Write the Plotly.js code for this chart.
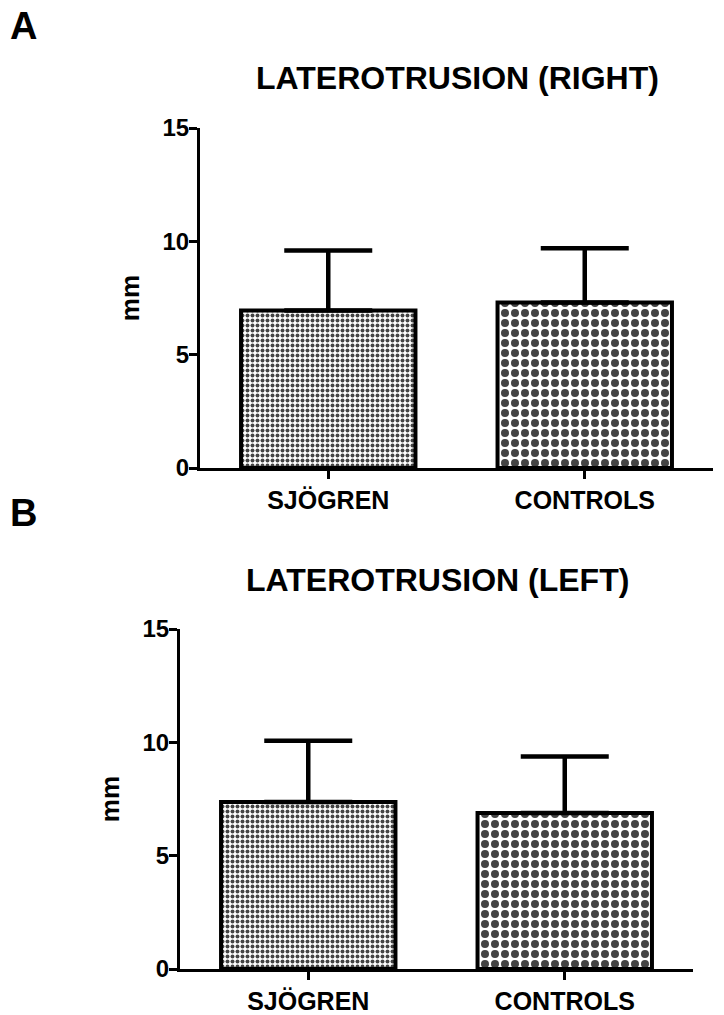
<!DOCTYPE html>
<html>
<head>
<meta charset="utf-8">
<script src="https://cdn.plot.ly/plotly-3.0.1.min.js"></script>
<style>html,body{margin:0;padding:0;background:#fff}#chart{width:724px;height:1015px}</style>
</head>
<body>
<div id="chart"></div>
<script>
// Data (mean and upper SD, mm)
const categories = ["SJÖGREN", "CONTROLS"];
const rightMeans = [6.95, 7.3];
const rightSD = [2.65, 2.4];
const leftMeans = [7.37, 6.88];
const leftSD = [2.7, 2.5];
const yTicks = [0, 5, 10, 15];
const panelTitles = ["LATEROTRUSION (RIGHT)", "LATEROTRUSION (LEFT)"];
const panelLetters = ["A", "B"];

const FONT = "Liberation Sans, Arial, sans-serif";
const W = 724, H = 1015;
const px = v => v / W;
const py = v => 1 - v / H;

function barTrace(means, sd, xa, ya) {
  return {
    type: "bar",
    x: categories,
    y: means,
    xaxis: xa, yaxis: ya,
    width: 0.68,
    marker: {
      color: ["#ffffff", "#ffffff"],
      line: {color: "#000", width: 4},
      pattern: {
        shape: [".", "."],
        size: [5, 10],
        solidity: [0.5, 0.5],
        fgcolor: "#000",
        fgopacity: 1,
        fillmode: "overlay"
      }
    },
    error_y: {
      type: "data", symmetric: false, array: sd, arrayminus: [0, 0],
      color: "#000", thickness: 4.5, width: 44
    },
    showlegend: false,
    hoverinfo: "skip"
  };
}

const xCommon = {
  type: "category", range: [-0.5, 1.5], showline: true, linecolor: "#000", linewidth: 3,
  ticks: "outside", ticklen: 8, tickwidth: 3, tickcolor: "#000",
  tickfont: {family: FONT, size: 25, weight: "bold", color: "#000"},
  showgrid: false, zeroline: false, fixedrange: true
};
const yCommon = {
  range: [0, 15], tickvals: yTicks, showline: true, linecolor: "#000", linewidth: 3,
  ticks: "outside", ticklen: 8, tickwidth: 3, tickcolor: "#000", ticklabelstandoff: -5,
  tickfont: {family: FONT, size: 24, weight: "bold", color: "#000"},
  showgrid: false, zeroline: false, fixedrange: true,
  title: {text: "mm", font: {family: FONT, size: 26, weight: "bold", color: "#000"}, standoff: 16}
};

const layout = {
  width: W, height: H,
  margin: {l: 0, r: 0, t: 0, b: 0},
  paper_bgcolor: "#fff", plot_bgcolor: "rgba(0,0,0,0)",
  xaxis: Object.assign({}, xCommon, {domain: [px(200), px(713)], anchor: "y"}),
  yaxis: Object.assign({}, yCommon, {domain: [py(468), py(128)], anchor: "x"}),
  xaxis2: Object.assign({}, xCommon, {domain: [px(180), px(693)], anchor: "y2"}),
  yaxis2: Object.assign({}, yCommon, {domain: [py(969), py(629)], anchor: "x2"}),
  annotations: [
    {text: panelLetters[0], xref: "paper", yref: "paper", x: px(8), y: py(26), xanchor: "left", yanchor: "middle",
     showarrow: false, font: {family: FONT, size: 38, weight: "bold", color: "#000"}},
    {text: panelLetters[1], xref: "paper", yref: "paper", x: px(8), y: py(513), xanchor: "left", yanchor: "middle",
     showarrow: false, font: {family: FONT, size: 38, weight: "bold", color: "#000"}},
    {text: panelTitles[0], xref: "paper", yref: "paper", x: px(457), y: py(78), xanchor: "center", yanchor: "middle",
     showarrow: false, font: {family: FONT, size: 32, weight: "bold", color: "#000"}},
    {text: panelTitles[1], xref: "paper", yref: "paper", x: px(438), y: py(580), xanchor: "center", yanchor: "middle",
     showarrow: false, font: {family: FONT, size: 32, weight: "bold", color: "#000"}}
  ]
};

Plotly.newPlot("chart", [
  barTrace(rightMeans, rightSD, "x", "y"),
  barTrace(leftMeans, leftSD, "x2", "y2")
], layout, {displayModeBar: false, staticPlot: true});
</script>
</body>
</html>
